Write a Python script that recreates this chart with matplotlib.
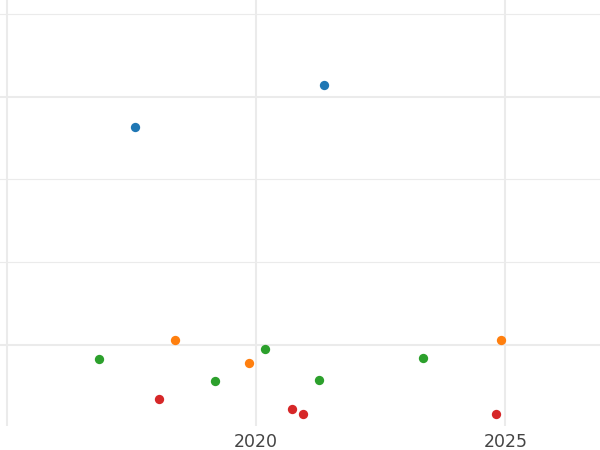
import matplotlib.pyplot as plt
from matplotlib.ticker import MultipleLocator

# values (x = year, y = value)
blue_x = [2017.56, 2021.36]
blue_y = [26.3, 31.4]
orange_x = [2018.37, 2019.86, 2024.92]
orange_y = [0.6, -2.2, 0.6]
green_x = [2016.85, 2019.18, 2020.17, 2021.27, 2023.34]
green_y = [-1.7, -4.35, -0.5, -4.2, -1.6]
red_x = [2018.05, 2020.72, 2020.94, 2024.81]
red_y = [-6.5, -7.7, -8.3, -8.3]

x_ticks = [2015, 2020, 2025]
x_labels = ["", "2020", "2025"]

fig = plt.figure(figsize=(6, 4.5), dpi=100)
ax = fig.add_axes([0, 24 / 450, 1, 426 / 450])

for xs, ys, c in [(blue_x, blue_y, "#1f77b4"), (orange_x, orange_y, "#ff7f0e"),
                  (green_x, green_y, "#2ca02c"), (red_x, red_y, "#d62728")]:
    ax.scatter(xs, ys, s=45, color=c, linewidths=0, zorder=3)

ax.set_xlim(2014.86, 2026.9)
ax.set_ylim(-9.79, 41.69)
ax.set_xticks(x_ticks)
ax.set_xticklabels(x_labels)
ax.yaxis.set_major_locator(MultipleLocator(30))
ax.yaxis.set_minor_locator(MultipleLocator(10))
ax.set_yticklabels([])

ax.grid(True, which="major", color="#ebebeb", linewidth=1.5)
ax.grid(True, which="minor", axis="y", color="#ebebeb", linewidth=0.8)
ax.set_axisbelow(True)
for s in ax.spines.values():
    s.set_visible(False)
ax.tick_params(which="both", length=0)
ax.tick_params(axis="x", labelsize=12.5, labelcolor="#444444", pad=5)

fig.savefig("out.png", dpi=100, facecolor="white")
